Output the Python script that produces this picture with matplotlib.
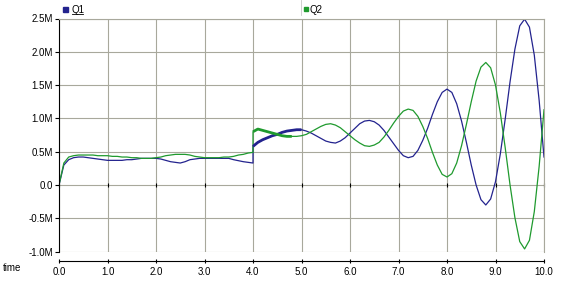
import numpy as np
import matplotlib.pyplot as plt
from matplotlib.patches import Rectangle
from matplotlib.lines import Line2D

plt.rcParams['font.family'] = ['Liberation Sans', 'DejaVu Sans']

# time axis: 0.1 s steps, 4.0 appears twice for the step change
time = np.concatenate([np.arange(0, 41) / 10, np.arange(40, 101) / 10])

# values in millions
q1 = [0.00, 0.30, 0.38, 0.41, 0.42, 0.42, 0.41, 0.40, 0.39, 0.38,
      0.37, 0.37, 0.37, 0.37, 0.38, 0.38, 0.39, 0.40, 0.40, 0.40,
      0.40, 0.39, 0.37, 0.35, 0.34, 0.33, 0.35, 0.38, 0.39, 0.40,
      0.40, 0.40, 0.40, 0.40, 0.40, 0.40, 0.38, 0.365, 0.35, 0.34,
      0.33,
      0.58, 0.64, 0.68, 0.71, 0.74, 0.76, 0.79, 0.81, 0.82, 0.83,
      0.83, 0.81, 0.78, 0.74, 0.70, 0.66, 0.64, 0.63, 0.66, 0.71,
      0.78, 0.85, 0.92, 0.96, 0.97, 0.95, 0.90, 0.82, 0.72, 0.62,
      0.52, 0.44, 0.41, 0.43, 0.52, 0.67, 0.85, 1.06, 1.25, 1.39,
      1.44, 1.39, 1.22, 0.96, 0.64, 0.30, 0.00, -0.22, -0.30, -0.21,
      0.05, 0.47, 0.99, 1.55, 2.04, 2.39, 2.49, 2.37, 1.95, 1.27,
      0.42]

q2 = [0.00, 0.33, 0.42, 0.44, 0.45, 0.45, 0.45, 0.45, 0.44, 0.44,
      0.44, 0.43, 0.43, 0.42, 0.42, 0.41, 0.41, 0.40, 0.40, 0.40,
      0.41, 0.42, 0.44, 0.45, 0.46, 0.46, 0.46, 0.45, 0.43, 0.42,
      0.41, 0.41, 0.41, 0.41, 0.42, 0.42, 0.43, 0.45, 0.46, 0.48,
      0.49,
      0.80, 0.84, 0.82, 0.80, 0.78, 0.76, 0.74, 0.73, 0.73, 0.73,
      0.74, 0.76, 0.80, 0.84, 0.88, 0.91, 0.92, 0.90, 0.86, 0.80,
      0.74, 0.68, 0.63, 0.59, 0.58, 0.60, 0.64, 0.72, 0.82, 0.93,
      1.03, 1.11, 1.14, 1.12, 1.03, 0.88, 0.70, 0.49, 0.30, 0.16,
      0.12, 0.17, 0.33, 0.59, 0.91, 1.25, 1.56, 1.77, 1.84, 1.76,
      1.50, 1.08, 0.56, 0.00, -0.49, -0.85, -0.96, -0.83, -0.40, 0.28,
      1.13]

xticks = [0, 1, 2, 3, 4, 5, 6, 7, 8, 9, 10]
yticks = [-1.0, -0.5, 0.0, 0.5, 1.0, 1.5, 2.0, 2.5]
ylabels = ['-1.0M', '-0.5M', '0.0', '0.5M', '1.0M', '1.5M', '2.0M', '2.5M']

blue = '#23238e'
green = '#1f9a2e'
gridc = '#a8a89c'

W, H = 562, 287
fig = plt.figure(figsize=(W / 100, H / 100), dpi=100)
ax = fig.add_axes([59 / W, 1 - 251.6 / H, (544 - 59) / W, (251.6 - 18.5) / H])

ax.plot(time, q1, color=blue, lw=0.9)
ax.plot(time, q2, color=green, lw=0.9)
# noisy stretch just after the step looks thicker
ax.plot(time[41:52], q1[41:52], color=blue, lw=2.0, solid_capstyle='butt')
ax.plot(time[41:50], q2[41:50], color=green, lw=2.0, solid_capstyle='butt')

ax.set_xlim(0, 10)
ax.set_ylim(-1.0, 2.5)
ax.set_xticks(xticks)
ax.set_xticklabels(['%.1f' % v for v in xticks])
ax.set_yticks(yticks)
ax.set_yticklabels(ylabels)
ax.grid(True, color=gridc, lw=0.8)
ax.set_axisbelow(True)

for s in ['top', 'right']:
    ax.spines[s].set_color(gridc)
    ax.spines[s].set_linewidth(0.8)
ax.spines['left'].set_color('black')
ax.spines['left'].set_linewidth(0.8)
ax.spines['bottom'].set_position(('outward', 6.5))
ax.spines['bottom'].set_linewidth(0.8)

ax.tick_params(axis='y', direction='out', length=3, width=0.8, pad=1.5, labelsize=7)
ax.tick_params(axis='x', direction='inout', length=3.5, width=0.8, pad=2.5, labelsize=7)

# tick marks across the zero line
sec = ax.secondary_xaxis((0 - (-1.0)) / 3.5)
sec.set_zorder(1)
sec.set_xticks(xticks)
sec.tick_params(direction='inout', length=3.5, width=0.8, labelbottom=False, labeltop=False)
for s in sec.spines.values():
    s.set_visible(False)

fig.text(3 / W, 1 - 268 / H, 'time', fontsize=7, ha='left', va='center')

# legend strip
fig.patches.append(Rectangle((62.5 / W, 1 - 11.7 / H), 5.2 / W, 4.4 / H,
                             transform=fig.transFigure, color=blue))
fig.text(71.5 / W, 1 - 9.8 / H, 'Q1', fontsize=7, ha='left', va='center')
fig.lines.append(Line2D([71.5 / W, 82.5 / W], [1 - 13.8 / H, 1 - 13.8 / H],
                        transform=fig.transFigure, color='black', lw=0.6))
fig.patches.append(Rectangle((304 / W, 1 - 11.2 / H), 4.4 / W, 4.2 / H,
                             transform=fig.transFigure, color=green))
fig.text(310 / W, 1 - 9.8 / H, 'Q2', fontsize=7, ha='left', va='center')
fig.lines.append(Line2D([300.7 / W, 300.7 / W], [1, 1 - 15 / H],
                        transform=fig.transFigure, color='#c8c8c8', lw=0.6))

fig.savefig('out.png', dpi=100)
